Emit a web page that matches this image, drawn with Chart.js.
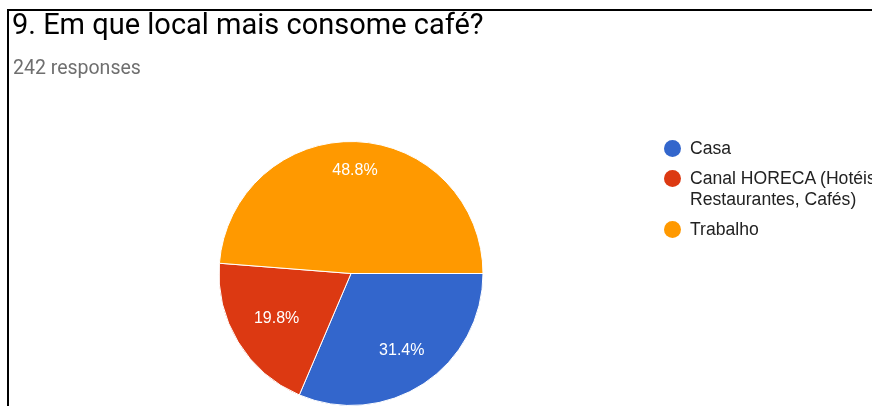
<!DOCTYPE html>
<html>
<head>
<meta charset="utf-8">
<script src="https://cdn.jsdelivr.net/npm/chart.js@4"></script>
<style>
  html, body { margin: 0; padding: 0; background: #fff; }
  body { width: 872px; height: 406px; overflow: hidden; position: relative; }
  #frame {
    position: absolute; left: 7px; top: 9px; width: 900px; height: 450px;
    border-top: 2px solid #000; border-left: 2px solid #000;
  }
  #title {
    position: absolute; left: 12px; top: 10px;
    font: 29px/29px Roboto, sans-serif; color: #000; white-space: nowrap;
  }
  #subtitle {
    position: absolute; left: 13px; top: 58px;
    font: 19.5px/19.5px Roboto, sans-serif; color: #6f6f6f; white-space: nowrap;
  }
  #chartBox { position: absolute; left: 0; top: 0; width: 872px; height: 406px; }
  #legend {
    position: absolute; left: 664px; top: 138px;
    font: 17.6px/21px "Liberation Sans", Arial, sans-serif; color: #222;
  }
  .item { display: flex; align-items: flex-start; margin-bottom: 9px; }
  .dot { width: 17px; height: 17px; border-radius: 50%; margin: 2px 9px 0 0; flex: none; }
  .txt { width: 240px; }
</style>
</head>
<body>
<div id="frame"></div>
<div id="chartBox"><canvas id="pieChart" width="872" height="406"></canvas></div>
<div id="title">9. Em que local mais consome café?</div>
<div id="subtitle">242 responses</div>
<div id="legend"></div>

<script>
const categories = ['Casa', 'Canal HORECA (Hotéis, Restaurantes, Cafés)', 'Trabalho'];
const counts = [76, 48, 118];
const colors = ['#3366cc', '#dc3912', '#ff9900'];

// percentage text inside each slice; the outer corner of the text box
// sits at a fixed share of the radius
const sliceLabels = {
  id: 'sliceLabels',
  afterDatasetsDraw(chart) {
    const ctx = chart.ctx;
    const data = chart.data.datasets[0].data;
    const total = data.reduce((a, b) => a + b, 0);
    ctx.save();
    ctx.font = '16px "Liberation Sans", Arial, sans-serif';
    ctx.fillStyle = '#fff';
    ctx.textAlign = 'center';
    ctx.textBaseline = 'middle';
    chart.getDatasetMeta(0).data.forEach((arc, i) => {
      const { x, y, startAngle, endAngle, outerRadius } = arc.getProps(['x', 'y', 'startAngle', 'endAngle', 'outerRadius'], true);
      const mid = (startAngle + endAngle) / 2;
      const pct = (data[i] / total * 100).toFixed(1) + '%';
      const halfW = ctx.measureText(pct).width / 2;
      const halfH = 6;
      const cos = Math.cos(mid), sin = Math.sin(mid);
      const r = outerRadius * 0.83 - (halfW * Math.abs(cos) + halfH * Math.abs(sin));
      ctx.fillText(pct, x + cos * r, y + sin * r);
    });
    ctx.restore();
  }
};

const chart = new Chart(document.getElementById('pieChart'), {
  type: 'pie',
  data: {
    labels: categories,
    datasets: [{
      data: counts,
      backgroundColor: colors,
      borderColor: '#fff',
      borderWidth: 1
    }]
  },
  options: {
    responsive: false,
    animation: false,
    rotation: 90,
    layout: { padding: { left: 218, top: 141, right: 388, bottom: 0 } },
    plugins: {
      legend: { display: false },
      tooltip: { enabled: false }
    }
  },
  plugins: [sliceLabels]
});

// html legend built from the chart's own labels and colours
const legendEl = document.getElementById('legend');
chart.data.labels.forEach((label, i) => {
  const item = document.createElement('div');
  item.className = 'item';
  const dot = document.createElement('span');
  dot.className = 'dot';
  dot.style.background = chart.data.datasets[0].backgroundColor[i];
  const txt = document.createElement('span');
  txt.className = 'txt';
  txt.textContent = label;
  item.appendChild(dot);
  item.appendChild(txt);
  legendEl.appendChild(item);
});
</script>
</body>
</html>
